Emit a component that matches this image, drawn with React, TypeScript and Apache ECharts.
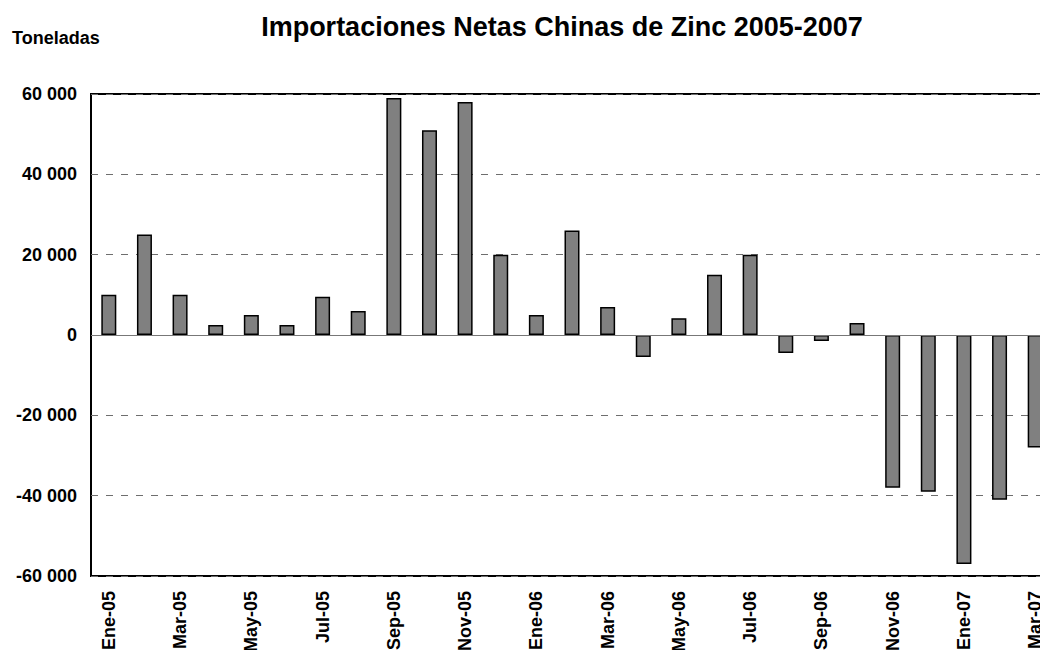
import React, { useEffect, useRef } from "react";
import * as echarts from "echarts";

const categories = [
  "Ene-05", "Feb-05", "Mar-05", "Abr-05", "May-05", "Jun-05", "Jul-05", "Ago-05", "Sep-05", "Oct-05", "Nov-05", "Dic-05",
  "Ene-06", "Feb-06", "Mar-06", "Abr-06", "May-06", "Jun-06", "Jul-06", "Ago-06", "Sep-06", "Oct-06", "Nov-06", "Dic-06",
  "Ene-07", "Feb-07", "Mar-07",
];
const values = [
  10000, 25000, 10000, 2500, 5000, 2500, 9500, 6000, 59000, 51000, 58000, 20000,
  5000, 26000, 7000, -5500, 4200, 15000, 20000, -4500, -1500, 3000, -38000, -39000,
  -57000, -41000, -28000,
];
const yTicks = { min: -60000, max: 60000, interval: 20000 };
const titleText = "Importaciones Netas Chinas de Zinc 2005-2007";
const unitText = "Toneladas";

const FONT = "'Liberation Sans', Arial, sans-serif";

function fmt(v: number): string {
  const s = Math.abs(v).toString().replace(/\B(?=(\d{3})+(?!\d))/g, " ");
  return (v < 0 ? "-" : "") + s;
}

export default function App() {
  const ref = useRef<HTMLDivElement>(null);
  useEffect(() => {
    if (!ref.current) return;
    const chart = echarts.init(ref.current, undefined, { renderer: "svg" });
    chart.setOption({
      animation: false,
      backgroundColor: "#ffffff",
      graphic: [
        {
          type: "text",
          x: 554,
          y: 19,
          style: {
            text: titleText,
            font: `bold 27px ${FONT}`,
            fill: "#000",
            align: "center",
            verticalAlign: "middle",
          },
        },
        {
          type: "text",
          x: 4,
          y: 30,
          style: {
            text: unitText,
            font: `bold 18px ${FONT}`,
            fill: "#000",
            align: "left",
            verticalAlign: "middle",
          },
        },
      ],
      grid: {
        left: 83,
        top: 86,
        right: 55,
        bottom: 74,
        show: true,
        borderColor: "#000",
        borderWidth: 2,
        backgroundColor: "transparent",
        containLabel: false,
        outerBoundsMode: "none",
      },
      xAxis: {
        type: "category",
        data: categories,
        axisLine: { show: false, onZero: false },
        axisTick: { show: false },
        splitLine: { show: false },
        axisLabel: {
          rotate: 90,
          interval: 1,
          margin: 15,
          fontFamily: FONT,
          fontWeight: "bold",
          fontSize: 18,
          color: "#000",
        },
      },
      yAxis: {
        type: "value",
        min: yTicks.min,
        max: yTicks.max,
        interval: yTicks.interval,
        axisLine: { show: false },
        axisTick: { show: false },
        axisLabel: {
          margin: 14,
          fontFamily: FONT,
          fontWeight: "bold",
          fontSize: 18,
          color: "#000",
          formatter: (v: number) => fmt(v),
        },
        splitLine: {
          show: true,
          lineStyle: { color: "#6e6e6e", width: 1, type: [7, 8] },
        },
      },
      series: [
        {
          type: "bar",
          data: values,
          barWidth: 15,
          itemStyle: { color: "#808080", borderColor: "#000", borderWidth: 1.5 },
          markLine: {
            silent: true,
            symbol: "none",
            label: { show: false },
            lineStyle: { color: "#777", width: 1, type: "solid" },
            data: [{ yAxis: 0 }],
          },
        },
      ],
    });
    return () => chart.dispose();
  }, []);
  return (
    <div
      style={{
        position: "fixed",
        left: 8,
        top: 8,
        width: 1032,
        height: 642,
        overflow: "hidden",
        background: "#fff",
      }}
    >
      <div ref={ref} style={{ width: 1100, height: 642 }} />
    </div>
  );
}
